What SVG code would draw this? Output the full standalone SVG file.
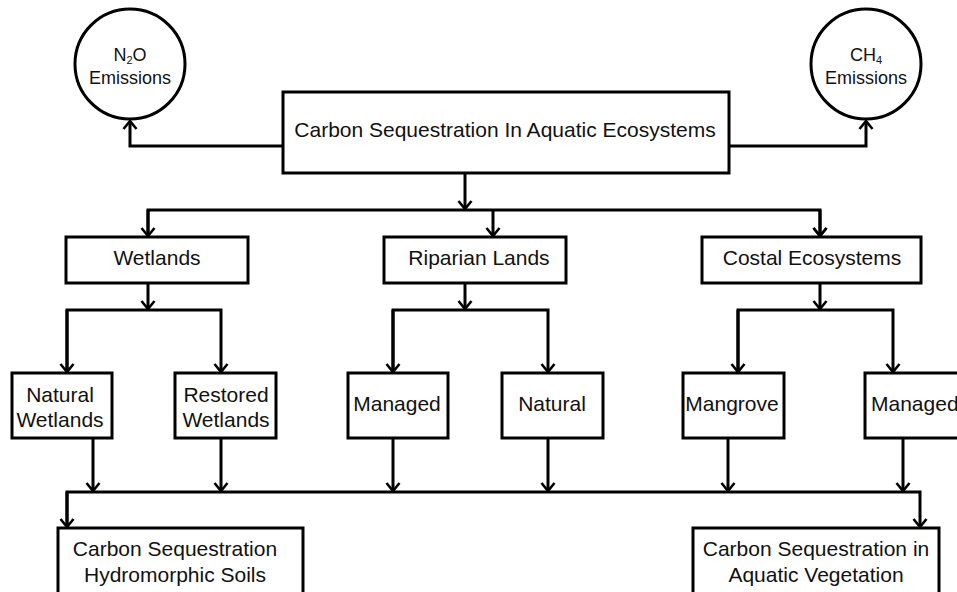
<svg xmlns="http://www.w3.org/2000/svg" width="957" height="592" viewBox="0 0 957 592">
<style>
.box{fill:#fff;stroke:#000;stroke-width:3}
.t{font-family:"Liberation Sans",Arial,sans-serif;font-size:21px;fill:#111;text-anchor:middle}
.ts{font-family:"Liberation Sans",Arial,sans-serif;font-size:18px;fill:#111;text-anchor:middle}
.c{fill:none;stroke:#000;stroke-width:3}
</style>
<defs>
<marker id="ah" markerWidth="16" markerHeight="16" refX="13" refY="8" orient="auto" markerUnits="userSpaceOnUse">
<path d="M5,1.5 L13,8 L5,14.5" fill="none" stroke="#000" stroke-width="2.6"/>
</marker>
</defs>
<rect width="957" height="592" fill="#fff"/>
<g id="connectors">
<path class="c" d="M283,146 H130 V121" marker-end="url(#ah)"/>
<path class="c" d="M729,146 H866 V121" marker-end="url(#ah)"/>
<path class="c" d="M465,173 V209" marker-end="url(#ah)"/>
<path class="c" d="M148,236 V210 H820 V236" marker-end="url(#ah)"/>
<path class="c" d="M148,210 V236" marker-end="url(#ah)"/>
<path class="c" d="M493,210 V236" marker-end="url(#ah)"/>
<path class="c" d="M820,210 V236" marker-end="url(#ah)"/>
<path class="c" d="M148,283 V309" marker-end="url(#ah)"/>
<path class="c" d="M67,372 V310 H221 V372" marker-end="url(#ah)"/>
<path class="c" d="M67,310 V372" marker-end="url(#ah)"/>
<path class="c" d="M465,283 V309" marker-end="url(#ah)"/>
<path class="c" d="M393,372 V310 H548 V372" marker-end="url(#ah)"/>
<path class="c" d="M393,310 V372" marker-end="url(#ah)"/>
<path class="c" d="M820,283 V309" marker-end="url(#ah)"/>
<path class="c" d="M738,372 V310 H893 V372" marker-end="url(#ah)"/>
<path class="c" d="M738,310 V372" marker-end="url(#ah)"/>
<path class="c" d="M93,438 V491" marker-end="url(#ah)"/>
<path class="c" d="M221,438 V491" marker-end="url(#ah)"/>
<path class="c" d="M393,438 V491" marker-end="url(#ah)"/>
<path class="c" d="M548,438 V491" marker-end="url(#ah)"/>
<path class="c" d="M728,438 V491" marker-end="url(#ah)"/>
<path class="c" d="M903,438 V491" marker-end="url(#ah)"/>
<path class="c" d="M67,527 V492 H920 V527" marker-end="url(#ah)"/>
<path class="c" d="M67,492 V527" marker-end="url(#ah)"/>
</g>
<g id="n2o">
<circle cx="130" cy="64" r="55" fill="#fff" stroke="#000" stroke-width="3"/>
<text class="ts" x="130" y="61">N<tspan font-size="11" dy="3">2</tspan><tspan dy="-3">O</tspan></text>
<text class="ts" x="130" y="84">Emissions</text>
</g>
<g id="ch4">
<circle cx="866" cy="64" r="55" fill="#fff" stroke="#000" stroke-width="3"/>
<text class="ts" x="866" y="61">CH<tspan font-size="11" dy="3">4</tspan></text>
<text class="ts" x="866" y="84">Emissions</text>
</g>
<g id="top">
<rect class="box" x="283" y="92" width="446" height="81"/>
<text class="t" x="505" y="137">Carbon Sequestration In Aquatic Ecosystems</text>
</g>
<g id="wetlands">
<rect class="box" x="66" y="237" width="182" height="46"/>
<text class="t" x="157" y="265">Wetlands</text>
</g>
<g id="riparian">
<rect class="box" x="384" y="237" width="182" height="46"/>
<text class="t" x="479" y="265">Riparian Lands</text>
</g>
<g id="costal">
<rect class="box" x="702" y="237" width="219" height="46"/>
<text class="t" x="812" y="265">Costal Ecosystems</text>
</g>
<g id="natural-wetlands">
<rect class="box" x="12" y="373" width="100" height="65"/>
<text class="t" x="60" y="402">Natural</text>
<text class="t" x="60" y="427">Wetlands</text>
</g>
<g id="restored-wetlands">
<rect class="box" x="175" y="373" width="101" height="65"/>
<text class="t" x="226" y="402">Restored</text>
<text class="t" x="226" y="427">Wetlands</text>
</g>
<g id="managed-riparian">
<rect class="box" x="348" y="373" width="100" height="65"/>
<text class="t" x="397" y="411">Managed</text>
</g>
<g id="natural-riparian">
<rect class="box" x="502" y="373" width="101" height="65"/>
<text class="t" x="552" y="411">Natural</text>
</g>
<g id="mangrove">
<rect class="box" x="683" y="373" width="101" height="65"/>
<text class="t" x="732" y="411">Mangrove</text>
</g>
<g id="managed-coastal">
<rect class="box" x="865" y="373" width="110" height="65"/>
<text class="t" x="871" y="411" style="text-anchor:start">Managed</text>
</g>
<g id="soils">
<rect class="box" x="58" y="528" width="245" height="80"/>
<text class="t" x="175" y="556">Carbon Sequestration</text>
<text class="t" x="175" y="582">Hydromorphic Soils</text>
</g>
<g id="vegetation">
<rect class="box" x="693" y="528" width="246" height="80"/>
<text class="t" x="816" y="556">Carbon Sequestration in</text>
<text class="t" x="816" y="582">Aquatic Vegetation</text>
</g>
</svg>
